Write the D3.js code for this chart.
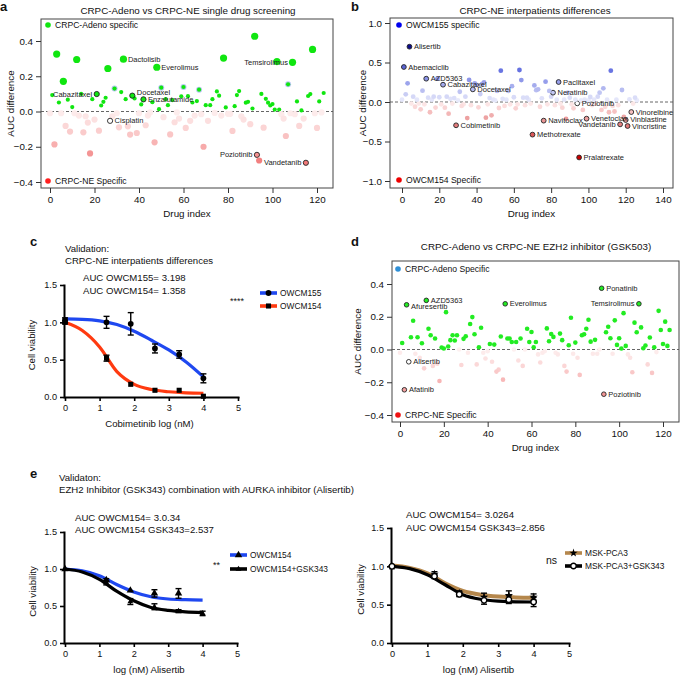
<!DOCTYPE html>
<html>
<head>
<meta charset="utf-8">
<script src="https://cdnjs.cloudflare.com/ajax/libs/d3/7.8.5/d3.min.js"></script>
<style>
  body { margin: 0; background: #fff; }
  svg text { font-family: "Liberation Sans", Arial, Helvetica, sans-serif; }
</style>
</head>
<body>
<div id="chart"></div>
<script>
"use strict";

// ---- panel a: CRPC-Adeno vs CRPC-NE single drug screening (AUC difference by drug index)
const aValues = [
  -0.01, 0.093, -0.187, 0.326, 0.051, -0.01, 0.171, -0.082, 0.067, -0.114,
  0.025, -0.01, 0.295, -0.023, 0.1, -0.118, -0.027, -0.063, -0.238, 0.07,
  -0.046, 0.099, -0.109, 0.034, 0.055, 0.078, 0.244, -0.053, -0.027, 0.13,
  -0.01, -0.09, 0.11, 0.297, 0.07, -0.084, -0.131, 0.09, 0.074, -0.122,
  -0.01, 0.04, 0.069, -0.078, -0.023, -0.005, 0.053, -0.175, 0.251, 0.013,
  0.135, -0.032, 0.07, 0.036, -0.13, 0.065, -0.061, -0.005, -0.04, 0.086,
  0.139, -0.093, 0.087, -0.053, 0.051, -0.023, 0.059, 0.124, -0.015, -0.2,
  0.036, -0.053, 0.036, 0.07, -0.008, 0.114, 0.09, -0.023, 0.303, 0.023,
  -0.013, -0.013, -0.11, 0.03, 0.093, 0.116, -0.027, -0.046, 0.05, 0.055,
  -0.072, 0.017, 0.427, -0.246, -0.278, 0.1, -0.092, 0.072, 0.05, 0.034,
  0.042, 0.011, 0.283, 0.011, -0.015, -0.04, -0.139, 0.154, -0.01, 0.279,
  -0.015, 0.057, -0.082, 0.006, -0.04, -0.291, 0.088, 0.099, 0.352, -0.01,
  -0.093, 0.057, -0.005, 0.105
];
const aLabelNames = ["Cabazitaxel", "Dactolisib", "Docetaxel", "Enzalutamide", "Everolimus",
  "Cisplatin", "Temsirolimus", "Poziotinib", "Vandetanib"];
const aLabelIdx = [21, 33, 37, 42, 48, 27, 109, 93, 115];

// ---- panel b: CRPC-NE interpatients differences
const bValues = [
  0.03, 0.443, 0.097, 0.236, 0.70, -0.02, 0.068, -0.06, 0.03, -0.02,
  -0.093, 0.143, -0.03, 0.295, 0.055, -0.13, 0.03, 0.068, -0.07, 0.295,
  0.06, -0.03, 0.219, -0.072, 0.068, -0.148, 0.04, -0.02, 0.05, -0.295,
  0.02, 0.13, -0.05, -0.03, 0.068, -0.203, 0.279, -0.04, 0.16, 0.236,
  0.215, -0.068, 0.10, 0.228, 0.249, -0.198, -0.03, 0.05, -0.169, 0.03,
  0.02, 0.14, -0.076, 0.397, 0.04, -0.05, 0.03, 0.14, -0.03, 0.2,
  0.06, -0.08, -0.03, 0.405, 0.278, 0.055, -0.04, 0.055, 0.03, -0.02,
  -0.413, 0.21, 0.15, 0.16, -0.06, 0.046, -0.236, 0.257, -0.03, 0.14,
  0.068, 0.118, -0.04, 0.03, 0.253, -0.02, -0.072, 0.03, -0.215, 0.118,
  0.055, -0.03, -0.08, 0.03, -0.017, -0.702, 0.02, -0.1, 0.03, -0.211,
  0.02, 0.063, -0.04, 0.03, -0.02, 0.068, 0.118, -0.1, 0.173, -0.06,
  0.03, -0.13, 0.397, -0.05, -0.12, 0.03, -0.04, -0.283, 0.152, -0.19,
  -0.228, -0.304, 0.034, -0.127, -0.02, 0.055, 0.02
];
const bLabelNames = ["Alisertib", "Abemaciclib", "AZD5363", "Cabazitaxel", "Docetaxel", "Cobimetinib",
  "Paclitaxel", "Neratinib", "Poziotinib", "Navitoclax", "Methotrexate", "Pralatrexate",
  "Venetoclax", "Vandetanib", "Vinorelbine", "Vinblastine", "Vincristine"];
const bLabelIdx = [4, 1, 13, 22, 38, 29, 84, 81, 94, 76, 70, 95, 99, 117, 123, 120, 121];

// ---- panel d: CRPC-Adeno vs CRPC-NE EZH2 inhibitor (GSK503)
const dValues = [
  -0.02, 0.04, -0.246, 0.273, -0.075, 0.075, 0.176, -0.026, 0.075, -0.05,
  0.038, -0.115, 0.30, 0.127, 0.087, -0.1, 0.067, -0.087, -0.192, 0.012,
  0.006, 0.228, 0.018, 0.057, 0.087, 0.055, 0.087, 0.0, -0.095, 0.065,
  0.081, -0.02, 0.156, 0.198, 0.093, -0.091, 0.014, 0.133, -0.02, -0.055,
  -0.01, 0.034, -0.075, 0.03, -0.135, -0.123, 0.079, -0.184, 0.279, 0.067,
  0.067, 0.046, 0.0, 0.046, -0.067, 0.067, -0.1, 0.0, 0.127, 0.046,
  0.107, 0.014, 0.046, -0.03, -0.079, -0.02, -0.01, 0.129, 0.05, 0.095,
  0.077, -0.02, -0.03, 0.097, 0.057, -0.1, -0.135, 0.026, 0.194, -0.026,
  0.042, -0.05, -0.155, 0.087, 0.093, 0.127, 0.182, 0.048, -0.026, 0.059,
  -0.026, 0.0, 0.374, -0.273, 0.105, 0.139, 0.069, -0.026, 0.178, 0.028,
  0.069, 0.006, 0.222, 0.022, -0.03, -0.05, -0.139, 0.164, 0.105, 0.279,
  0.135, 0.008, 0.024, -0.091, 0.073, -0.143, 0.014, -0.016, 0.236, 0.119,
  0.034, 0.17, 0.022, 0.119
];
const dLabelNames = ["Afuresertib", "AZD5363", "Everolimus", "Ponatinib", "Temsirolimus",
  "Alisertib", "Afatinib", "Poziotinib"];
const dLabelIdx = [3, 12, 48, 92, 109, 4, 2, 93];

// label placement tweaks (layout only)
const labelsOnLeft = ["a:Cabazitaxel", "a:Temsirolimus", "a:Poziotinib", "a:Vandetanib",
  "b:Vandetanib", "d:Temsirolimus"];
const labelNudge = { "a:Docetaxel": -3.5, "d:Afuresertib": 2, "d:AZD5363": -0.5,
  "b:Vinblastine": -0.8, "b:Vincristine": 0.8 };

// ---- dose-response panels (log nM)
const doseX = [0, 1.2, 1.9, 2.6, 3.3, 4];
const fitX = [0, 0.5, 1, 1.5, 2, 2.5, 3, 3.5, 4];

const cOwcm155 = [1.03, 1.0, 0.98, 0.65, 0.57, 0.25];
const cOwcm155Err = [0.03, 0.08, 0.15, 0.06, 0.05, 0.06];
const cOwcm155Fit = [1.045, 1.04, 1.02, 0.97, 0.88, 0.76, 0.63, 0.47, 0.27];
const cOwcm154 = [1.0, 0.52, 0.17, 0.09, 0.09, 0.01];
const cOwcm154Err = [0.02, 0.04, 0.01, 0.01, 0.01, 0.01];
const cOwcm154Fit = [1.0, 0.89, 0.67, 0.34, 0.17, 0.10, 0.07, 0.055, 0.05];

const eOwcm154 = [1.0, 0.85, 0.71, 0.67, 0.67, null];
const eOwcm154Err = [0.01, 0.02, 0.01, 0.05, 0.065, null];
const eOwcm154Fit = [1.0, 0.975, 0.91, 0.79, 0.69, 0.625, 0.595, 0.585, 0.58];
const eOwcm154G = [1.0, 0.815, 0.56, 0.49, 0.43, 0.40];
const eOwcm154GErr = [0.01, 0.03, 0.04, 0.04, 0.02, 0.03];
const eOwcm154GFit = [1.0, 0.96, 0.86, 0.70, 0.57, 0.48, 0.44, 0.42, 0.41];

const ePca3 = [1.0, 0.90, 0.65, 0.60, 0.62, 0.60];
const ePca3Err = [0.01, 0.03, 0.03, 0.05, 0.06, 0.04];
const ePca3Fit = [1.01, 0.98, 0.91, 0.78, 0.68, 0.63, 0.605, 0.595, 0.59];
const ePca3G = [1.0, 0.87, 0.635, 0.556, 0.565, 0.535];
const ePca3GErr = [0.02, 0.03, 0.03, 0.05, 0.05, 0.06];
const ePca3GFit = [1.0, 0.97, 0.89, 0.76, 0.63, 0.57, 0.545, 0.537, 0.535];

const doseTicksY = [0, 0.5, 1.0, 1.5];
const doseTicksX = [0, 1, 2, 3, 4, 5];

// ---------------------------------------------------------------
const svg = d3.select("#chart").append("svg")
  .attr("width", 681).attr("height", 675)
  .style("background", "#fff");

function text(x, y, s, size, anchor, weight) {
  return svg.append("text")
    .attr("x", x).attr("y", y).attr("dy", "0.35em")
    .attr("font-size", size)
    .attr("text-anchor", anchor || "start")
    .attr("font-weight", weight || "normal")
    .attr("fill", "#111")
    .text(s);
}

function scatter(p) {
  const x = d3.scaleLinear().domain([0, p.xMax]).range(p.xr);
  const y = d3.scaleLinear().domain([-p.yMax, p.yMax]).range(p.yr);
  const [bx0, by0, bx1, by1] = p.box;

  svg.append("rect")
    .attr("x", bx0).attr("y", by0)
    .attr("width", bx1 - bx0).attr("height", by1 - by0)
    .attr("fill", "none").attr("stroke", "#444").attr("stroke-width", 1);

  const xa = svg.append("g").attr("transform", `translate(0,${by1})`)
    .call(d3.axisBottom(x).tickValues(d3.range(0, p.xMax + 1, 20)).tickSize(5).tickSizeOuter(0));
  const ya = svg.append("g").attr("transform", `translate(${bx0},0)`)
    .call(d3.axisLeft(y).tickValues(p.yTicks).tickSize(5).tickSizeOuter(0).tickFormat(d3.format(".1f")));
  [xa, ya].forEach(a => {
    a.select(".domain").remove();
    a.selectAll("line").attr("stroke", "#333");
    a.selectAll("text").attr("font-size", 9.8).attr("fill", "#111");
  });
  xa.selectAll("text").attr("y", 8);

  svg.append("line")
    .attr("x1", bx0).attr("x2", bx1).attr("y1", y(0)).attr("y2", y(0))
    .attr("stroke", "#555").attr("stroke-width", 0.9).attr("stroke-dasharray", "3,2");

  const pts = p.values.map((v, i) => ({ i, v }));
  const labelled = new Set(p.labelIdx);

  // bluish halo behind mid-sized positives (panel a)
  if (p.halo) {
    svg.append("g").selectAll("circle")
      .data(pts.filter(d => d.v >= 0.12 && d.v < 0.16))
      .join("circle")
      .attr("cx", d => x(d.i)).attr("cy", d => y(d.v))
      .attr("r", 3).attr("fill", "#b9c6f2");
  }

  svg.append("g").selectAll("circle")
    .data(pts.sort((m, n) => Math.abs(m.v) - Math.abs(n.v)))
    .join("circle")
    .attr("cx", d => x(d.i)).attr("cy", d => y(d.v))
    .attr("r", d => p.radius(d.v, labelled.has(d.i)))
    .attr("fill", d => p.color(d.v, labelled.has(d.i)))
    .attr("stroke", d => labelled.has(d.i) && p.outline(d.v) ? "#222" : "none")
    .attr("stroke-width", 0.9);

  p.labelNames.forEach((name, k) => {
    const i = p.labelIdx[k];
    const key = p.key + ":" + name;
    const left = labelsOnLeft.includes(key);
    text(x(i) + (left ? -4.5 : 4.5), y(p.values[i]) + (labelNudge[key] || 0), name, 7.5, left ? "end" : "start")
      .attr("fill", "#222");
  });

  // legend markers
  svg.append("circle").attr("cx", p.legend[0]).attr("cy", p.legend[1]).attr("r", 2.8).attr("fill", p.legendColors[0]);
  text(p.legend[0] + 7, p.legend[1], p.legendText[0], 8.6);
  svg.append("circle").attr("cx", p.legend[0]).attr("cy", p.legend[2]).attr("r", 2.8).attr("fill", p.legendColors[1]);
  text(p.legend[0] + 7, p.legend[2], p.legendText[1], 8.6);

  text((bx0 + bx1) / 2, by1 + 26, "Drug index", 9.8, "middle");
  svg.append("text")
    .attr("transform", `translate(${p.yLabelX},${(by0 + by1) / 2}) rotate(-90)`)
    .attr("text-anchor", "middle").attr("dy", "0.35em")
    .attr("font-size", 9.8).attr("fill", "#111")
    .text("AUC difference");
  text(p.title[0], p.title[1], p.title[2], 9.8, "middle");
}

// panel a colours
const aPink = d3.scaleLinear().domain([0, 0.1, 0.2, 0.3])
  .range(["#fdeeee", "#fbd2d2", "#f7aaaa", "#f07474"]).clamp(true);
scatter({
  key: "a", values: aValues, labelNames: aLabelNames, labelIdx: aLabelIdx,
  xMax: 120, xr: [50, 317], yMax: 0.4, yr: [182, 41], yTicks: [-0.4, -0.2, 0, 0.2, 0.4],
  box: [41, 19, 333, 188], halo: true,
  color: (v, lab) => v > 0 ? "#10e610" : (lab && v > -0.1 ? "#ffffff" : aPink(-v)),
  radius: (v, lab) => v >= 0.16 ? 3.6 : v > 0 ? (lab ? 2.6 : 2.1) : (lab ? 2.6 : 3.1),
  outline: v => Math.abs(v) < 0.16 || v < 0,
  legend: [48, 25, 181], legendColors: ["#10e610", "#ff2020"],
  legendText: ["CRPC-Adeno specific", "CRPC-NE Specific"],
  yLabelX: 11, title: [188, 11, "CRPC-Adeno vs CRPC-NE single drug screening"]
});

// panel b colours
const bBlue = d3.scaleLinear().domain([0, 0.1, 0.4, 0.7])
  .range(["#f0f1fd", "#c8ccf4", "#6874e2", "#0c0c8a"]).clamp(true);
const bRed = d3.scaleLinear().domain([0, 0.1, 0.3, 0.7])
  .range(["#fdf0f0", "#f8caca", "#e27a7a", "#c80000"]).clamp(true);
scatter({
  key: "b", values: bValues, labelNames: bLabelNames, labelIdx: bLabelIdx,
  xMax: 140, xr: [402, 663], yMax: 1.0, yr: [181, 23], yTicks: [-1, -0.5, 0, 0.5, 1],
  box: [390, 18, 673, 188], halo: false,
  color: (v, lab) => v > 0 ? bBlue(v) : (lab && v > -0.05 ? "#ffffff" : bRed(-v)),
  radius: () => 2.4,
  outline: () => true,
  legend: [399, 25, 180], legendColors: ["#0000ee", "#ee0000"],
  legendText: ["OWCM155 specific", "OWCM154 Specific"],
  yLabelX: 363, title: [535, 11, "CRPC-NE interpatients differences"]
});

// panel d colours
const dPink = d3.scaleLinear().domain([0, 0.1, 0.2, 0.3])
  .range(["#fdf0f0", "#fbd6d6", "#f7b2b2", "#f08a8a"]).clamp(true);
scatter({
  key: "d", values: dValues, labelNames: dLabelNames, labelIdx: dLabelIdx,
  xMax: 120, xr: [400, 663], yMax: 0.4, yr: [415, 284], yTicks: [-0.4, -0.2, 0, 0.2, 0.4],
  box: [392, 261, 679, 422], halo: false,
  color: (v, lab) => v > 0 ? "#22ec22" : (lab && v > -0.1 ? "#ffffff" : dPink(-v)),
  radius: () => 2.3,
  outline: () => true,
  legend: [398, 269, 415], legendColors: ["#2f8fd6", "#ee1111"],
  legendText: ["CRPC-Adeno Specific", "CRPC-NE Specific"],
  yLabelX: 358, title: [536, 247, "CRPC-Adeno vs CRPC-NE EZH2 inhibitor (GSK503)"]
});

// ---- dose-response panels
const symbols = {
  circle: d3.symbol().type(d3.symbolCircle).size(26),
  square: d3.symbol().type(d3.symbolSquare).size(26),
  up: d3.symbol().type(d3.symbolTriangle).size(24),
  down: d3.symbol().type(d3.symbolTriangle2).size(24),
  star: d3.symbol().type(d3.symbolStar).size(22),
  ring: d3.symbol().type(d3.symbolCircle).size(24)
};

function dose(p) {
  const x = d3.scaleLinear().domain([0, 5]).range(p.xr);
  const y = d3.scaleLinear().domain([0, 1.5]).range(p.yr);

  const xa = svg.append("g").attr("transform", `translate(0,${p.yr[0]})`)
    .call(d3.axisBottom(x).tickValues(doseTicksX).tickSize(4).tickSizeOuter(0).tickFormat(d3.format("d")));
  const ya = svg.append("g").attr("transform", `translate(${p.xr[0] - 1},0)`)
    .call(d3.axisLeft(y).tickValues(doseTicksY).tickSize(4).tickSizeOuter(0).tickFormat(d3.format(".1f")));
  [xa, ya].forEach(a => {
    a.select(".domain").attr("stroke", "#000").attr("stroke-width", 2).attr("stroke-linecap", "square");
    a.selectAll("line").attr("stroke", "#000").attr("stroke-width", 1.6);
    a.selectAll("text").attr("font-size", 9.2).attr("fill", "#111");
  });
  xa.selectAll("text").attr("y", 7);

  const line = d3.line().x((d, i) => x(fitX[i])).y(d => y(d)).curve(d3.curveMonotoneX);
  p.series.forEach(s => {
    svg.append("path").attr("d", line(s.fit)).attr("fill", "none")
      .attr("stroke", s.color).attr("stroke-width", s.width || 3.2);
  });
  p.series.forEach(s => {
    const g = svg.append("g");
    s.vals.forEach((v, i) => {
      if (v === null) return;
      const cx = x(doseX[i]), e = s.errs[i];
      if (e > 0.015) {
        g.append("line").attr("x1", cx).attr("x2", cx).attr("y1", y(v - e)).attr("y2", y(v + e))
          .attr("stroke", "#000").attr("stroke-width", 1.4);
        [v - e, v + e].forEach(t => g.append("line")
          .attr("x1", cx - 3).attr("x2", cx + 3).attr("y1", y(t)).attr("y2", y(t))
          .attr("stroke", "#000").attr("stroke-width", 1.4));
      }
      g.append("path").attr("d", symbols[s.symbol]())
        .attr("transform", `translate(${cx},${y(v)})`)
        .attr("fill", s.symbol === "ring" ? "#fff" : "#000")
        .attr("stroke", "#000").attr("stroke-width", s.symbol === "ring" ? 1.4 : 0);
    });
  });

  // legend
  p.series.forEach((s, k) => {
    const ly = p.legend[1] + k * p.legend[2];
    svg.append("line").attr("x1", p.legend[0]).attr("x2", p.legend[0] + 17)
      .attr("y1", ly).attr("y2", ly).attr("stroke", s.color).attr("stroke-width", 3.6);
    svg.append("path").attr("d", symbols[s.symbol]())
      .attr("transform", `translate(${p.legend[0] + 8.5},${ly})`)
      .attr("fill", s.symbol === "ring" ? "#fff" : "#000")
      .attr("stroke", "#000").attr("stroke-width", s.symbol === "ring" ? 1.4 : 0);
    text(p.legend[0] + 20, ly, s.name, 8.4);
  });

  svg.append("text")
    .attr("transform", `translate(${p.yLabelX},${(p.yr[0] + p.yr[1]) / 2 + 4}) rotate(-90)`)
    .attr("text-anchor", "middle").attr("dy", "0.35em")
    .attr("font-size", 9.6).attr("fill", "#111")
    .text("Cell viability");
  text((p.xr[0] + p.xr[1]) / 2 - 2, p.yr[0] + 27, p.xLabel, 9.6, "middle");
  text(p.auc[0], p.auc[1], p.auc[3], 9.6);
  text(p.auc[0], p.auc[2], p.auc[4], 9.6);
  text(p.sig[0], p.sig[1], p.sig[2], p.sig[3]);
}

dose({
  xr: [65, 238], yr: [397, 285], yLabelX: 32, xLabel: "Cobimetinib log (nM)",
  series: [
    { name: "OWCM155", vals: cOwcm155, errs: cOwcm155Err, fit: cOwcm155Fit, color: "#1f48f0", symbol: "circle" },
    { name: "OWCM154", vals: cOwcm154, errs: cOwcm154Err, fit: cOwcm154Fit, color: "#ff3a10", symbol: "square" }
  ],
  legend: [260, 293, 13],
  auc: [83, 278, 291, "AUC OWCM155= 3.198", "AUC OWCM154= 1.358"],
  sig: [230, 301, "****", 9]
});

dose({
  xr: [65, 237], yr: [643, 532], yLabelX: 33, xLabel: "log (nM) Alisertib",
  series: [
    { name: "OWCM154", vals: eOwcm154, errs: eOwcm154Err, fit: eOwcm154Fit, color: "#1f48f0", symbol: "up" },
    { name: "OWCM154+GSK343", vals: eOwcm154G, errs: eOwcm154GErr, fit: eOwcm154GFit, color: "#000", symbol: "down" }
  ],
  legend: [230, 555, 14],
  auc: [75, 518, 530, "AUC OWCM154= 3.0.34", "AUC OWCM154 GSK343=2.537"],
  sig: [213, 565, "**", 9]
});

dose({
  xr: [392, 569], yr: [643, 528], yLabelX: 361, xLabel: "log (nM) Alisertib",
  series: [
    { name: "MSK-PCA3", vals: ePca3, errs: ePca3Err, fit: ePca3Fit, color: "#b5874c", symbol: "star", width: 4 },
    { name: "MSK-PCA3+GSK343", vals: ePca3G, errs: ePca3GErr, fit: ePca3GFit, color: "#000", symbol: "ring" }
  ],
  legend: [565, 553, 13],
  auc: [406, 515, 528, "AUC OWCM154= 3.0264", "AUC OWCM154 GSK343=2.856"],
  sig: [546, 560, "ns", 10.5]
});

// ---- panel titles and letters
text(65, 249, "Validation:", 9.6);
text(65, 261, "CRPC-NE interpatients differences", 9.6);
text(59, 478, "Validaton:", 9.6);
text(59, 490, "EZH2 Inhibitor (GSK343) combination with AURKA inhibitor (Alisertib)", 9.6);

text(0, 6, "a", 13, "start", "bold");
text(351, 6, "b", 13, "start", "bold");
text(30, 241, "c", 13, "start", "bold");
text(351, 241, "d", 13, "start", "bold");
text(30, 473, "e", 13, "start", "bold");
</script>
</body>
</html>
